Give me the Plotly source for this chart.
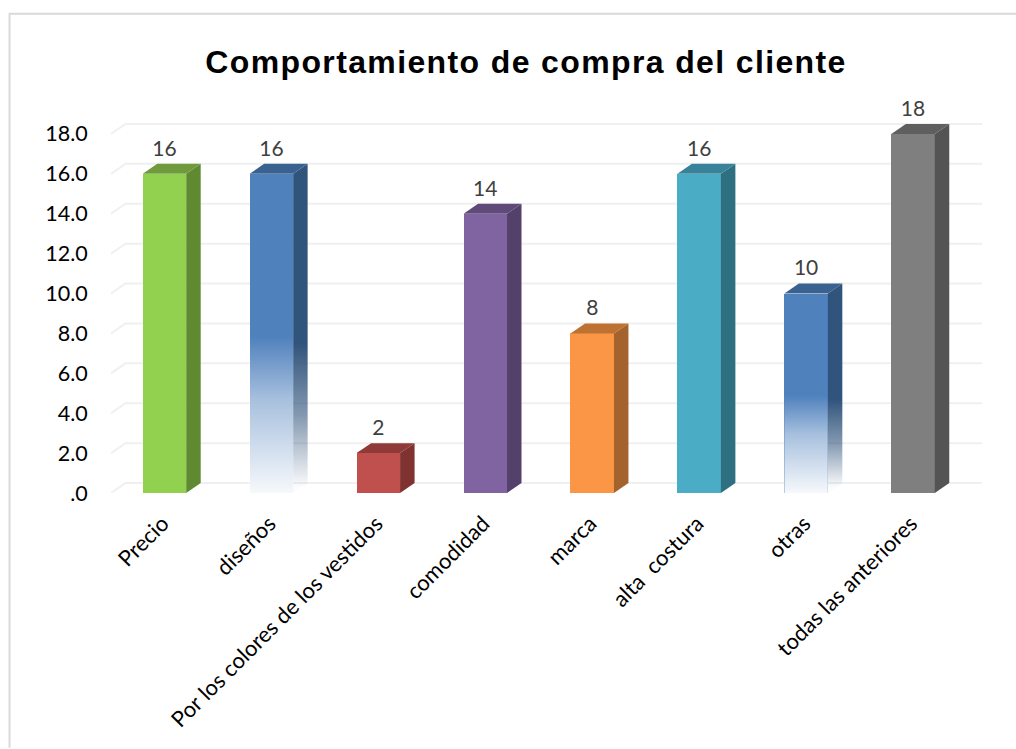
import plotly.graph_objects as go

categories = ["Precio", "diseños", "Por los colores de los vestidos", "comodidad", "marca",
              "alta  costura", "otras", "todas las anteriores"]
values = [16, 16, 2, 14, 8, 16, 10, 18]
front_colors = ["#92d050", "#4f81bd", "#c0504d", "#8064a2", "#fb9646", "#4bacc6", "#4f81bd", "#7f7f7f"]
side_colors = ["#5f8a32", "#31547c", "#7f3230", "#54416b", "#a4622d", "#2f6f82", "#31547c", "#545454"]
top_colors = ["#6f9b3d", "#3a6291", "#8f3a37", "#5f4a79", "#bd7231", "#38829a", "#3a6291", "#5f5f5f"]
fades = [False, True, False, False, False, False, True, False]
tick_values = [0, 2, 4, 6, 8, 10, 12, 14, 16, 18]
tick_labels = [".0", "2.0", "4.0", "6.0", "8.0", "10.0", "12.0", "14.0", "16.0", "18.0"]

W, H = 1016, 749
PL, PR, PT, PB = 110.5, 982.0, 113.5, 493.5
X_UNIT, Y_UNIT = 107.0, 20.0
DX, DY = 14.5 / X_UNIT, 10 / Y_UNIT
BAR_W = 43.5 / X_UNIT
xmin, xmax = -0.5, -0.5 + (PR - PL) / X_UNIT
ymin, ymax = 0, (PB - PT) / Y_UNIT
idx = list(range(len(categories)))


def rgba(hex_color, a):
    h = hex_color.lstrip("#")
    return f"rgba({int(h[:2],16)},{int(h[2:4],16)},{int(h[4:],16)},{a})"


fig = go.Figure()
fig.add_bar(x=idx, y=values, width=BAR_W, marker=dict(color=front_colors, line=dict(width=0)),
            hoverinfo="skip", showlegend=False)

for i, v in enumerate(values):
    left, right = i - BAR_W / 2, i + BAR_W / 2
    sx = [right, right + DX, right + DX, right, right]
    sy = [0, DY, v + DY, v, 0]
    side = dict(x=sx, y=sy, mode="lines", line=dict(width=0), fill="toself",
                hoverinfo="skip", showlegend=False)
    if fades[i]:
        side["fillgradient"] = dict(type="vertical", start=0.3, stop=v * 0.47,
                                    colorscale=[[0, rgba(side_colors[i], 0.02)], [0.5, rgba(side_colors[i], 0.6)],
                                                [1, rgba(side_colors[i], 1)]])
        # white fade over the front face of the bar
        fig.add_scatter(x=[left, right, right, left, left], y=[0, 0, v * 0.49, v * 0.49, 0],
                        mode="lines", line=dict(width=0), fill="toself", hoverinfo="skip", showlegend=False,
                        fillgradient=dict(type="vertical", start=0, stop=v * 0.49,
                                          colorscale=[[0, "rgba(255,255,255,0.95)"], [0.6, "rgba(255,255,255,0.5)"],
                                                      [1, "rgba(255,255,255,0)"]]))
    else:
        side["fillcolor"] = side_colors[i]
    fig.add_scatter(**side)
    fig.add_scatter(x=[left, right, right + DX, left + DX, left], y=[v, v, v + DY, v + DY, v],
                    mode="lines", line=dict(width=0), fill="toself", fillcolor=top_colors[i],
                    hoverinfo="skip", showlegend=False)

fig.add_scatter(x=idx, y=[v + DY + 0.15 for v in values], mode="text", text=[str(v) for v in values],
                textposition="top center", textfont=dict(family="Lato", size=21, color="#404040"),
                cliponaxis=False, hoverinfo="skip", showlegend=False)

grid_path = " ".join(
    f"M {-0.5} {t} L {-0.5 + DX} {t + DY} L {xmax} {t + DY}" for t in tick_values
)
shapes = [dict(type="path", path=grid_path, xref="x", yref="y", layer="below",
               line=dict(color="#f0f0f0", width=2))]


def px(x):
    return (x - PL) / (PR - PL)


def py(y):
    return (PB - y) / (PB - PT)


shapes.append(dict(type="path", xref="paper", yref="paper", layer="below",
                   path=f"M {px(9)} {py(749)} L {px(9)} {py(13)} L {px(1016)} {py(13)}",
                   line=dict(color="#d9d9d9", width=2)))

fig.update_layout(
    width=W, height=H, autosize=False,
    margin=dict(l=PL, r=W - PR, t=PT, b=H - PB, pad=0),
    paper_bgcolor="white", plot_bgcolor="rgba(0,0,0,0)", showlegend=False, bargap=0,
    shapes=shapes,
    title=dict(text="<b>Comportamiento de compra del cliente</b>", x=526 / W, xanchor="center",
               y=1 - 62 / H, yanchor="middle", font=dict(family="Liberation Sans", size=32, color="black")),
    xaxis=dict(range=[xmin, xmax], tickmode="array", tickvals=idx, ticktext=categories, tickangle=-45,
               showgrid=False, zeroline=False, showline=False, ticks="outside", ticklen=8,
               ticklabelshift=-2,
               tickcolor="rgba(0,0,0,0)", tickfont=dict(family="Lato", size=22, color="black")),
    yaxis=dict(range=[ymin, ymax], tickmode="array", tickvals=tick_values, ticktext=tick_labels,
               showgrid=False, zeroline=False, showline=False, ticks="outside", ticklen=18,
               tickcolor="rgba(0,0,0,0)", tickfont=dict(family="Lato", size=21.5, color="black")),
)
fig.write_html(
    "out.html",
    config={"displayModeBar": False},
    post_script="document.documentElement.style.overflow='hidden';document.body.style.margin='0';"
                "document.querySelector('.gtitle').style.letterSpacing='1.37px';",
)
